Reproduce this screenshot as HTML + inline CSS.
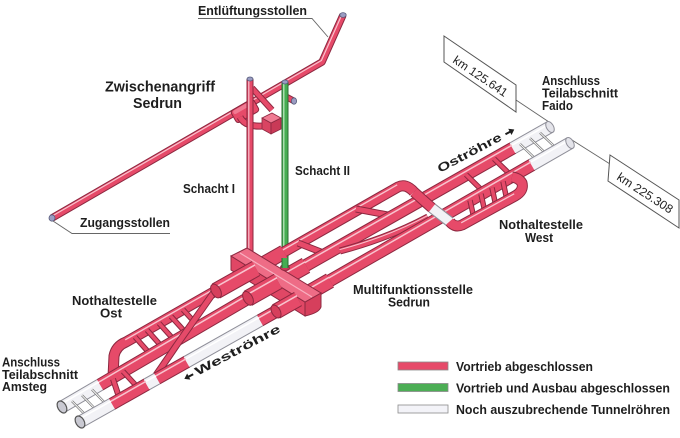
<!DOCTYPE html>
<html><head><meta charset="utf-8"><style>
html,body{margin:0;padding:0;background:#fff}
svg{display:block}
.o{fill:none;stroke:#8c2840;stroke-linejoin:round}
.r{fill:none;stroke:#e64a69;stroke-linejoin:round}
.h{fill:none;stroke:#f8c3ce;stroke-linejoin:round}
.wo{fill:none;stroke:#8e8e98;stroke-linejoin:round}
.w{fill:none;stroke:#f2f2f6;stroke-linejoin:round}
.go{fill:none;stroke:#2b6e33}
.g{fill:none;stroke:#46ad52}
.gh{fill:none;stroke:#c4eac6}
.t{font-family:"Liberation Sans",Arial,sans-serif;font-weight:bold;fill:#1e1e1e}
.n{font-family:"Liberation Sans",Arial,sans-serif;fill:#222}
.ld{fill:none;stroke:#666;stroke-width:0.9}
.cap{fill:#9a9cc2;stroke:#555a7a;stroke-width:0.8}
</style></head><body>
<svg xmlns="http://www.w3.org/2000/svg" width="680" height="438" viewBox="0 0 680 438">
<rect width="680" height="438" fill="#fff"/>

<!-- leader lines -->
<polyline class="ld" points="198,18.5 312,18.5 328,37"/>
<polyline class="ld" points="53,221 72,233.5 170,233.5"/>
<line class="ld" x1="516" y1="100" x2="549" y2="122"/>
<line class="ld" x1="610" y1="164" x2="572" y2="140"/>

<!-- Zugangsstollen / Entlüftungsstollen -->
<path class="o" stroke-width="7.5" d="M52,218 L322,62 L343,15"/>
<path class="r" stroke-width="5.5" d="M52,218 L322,62 L343,15"/>
<path class="h" stroke-width="1.2" d="M52,218 L322,62 L343,15" transform="translate(-0.6,-1.5)"/>
<ellipse class="cap" cx="52" cy="218" rx="3" ry="3.2"/>
<ellipse class="cap" cx="343" cy="15" rx="3.2" ry="2.4"/>

<!-- junction block -->
<g transform="translate(245,111) rotate(-30)">
<rect x="-13" y="-7" width="26" height="14" rx="3" fill="#e64a69" stroke="#8c2840" stroke-width="1"/>
<rect x="-11" y="-6" width="22" height="4" rx="2" fill="#f07a92"/>
</g>
<path class="o" stroke-width="6.5" d="M252,88 L272,110"/>
<path class="r" stroke-width="4.5" d="M252,88 L272,110"/>
<path class="o" stroke-width="7" d="M240,117 Q245,127 262,126"/>
<path class="r" stroke-width="5" d="M240,117 Q245,127 262,126"/>
<polygon points="262,129 271,134 271,123 262,118" fill="#d94462" stroke="#8c2840" stroke-width="0.8"/>
<polygon points="271,123 281,118 281,129 271,134" fill="#c93a57" stroke="#8c2840" stroke-width="0.8"/>
<polygon points="262,118 272,113 281,118 271,123" fill="#f07a92" stroke="#8c2840" stroke-width="0.8"/>

<!-- Schacht I -->
<path class="o" stroke-width="7" d="M250,79 L250,258"/>
<path class="r" stroke-width="5" d="M250,79 L250,258"/>
<path class="h" stroke-width="1.2" d="M248.8,80 L248.8,258"/>
<ellipse class="cap" cx="250" cy="79" rx="3" ry="2"/>
<!-- Schacht II -->
<path class="o" stroke-width="6.5" d="M283,95 L294,101"/>
<path class="r" stroke-width="4.5" d="M283,95 L294,101"/>
<ellipse class="cap" cx="294" cy="101" rx="2.6" ry="3.2"/>
<path class="go" stroke-width="7" d="M285,82 L285,267"/>
<path class="g" stroke-width="5" d="M285,82 L285,267"/>
<path class="gh" stroke-width="1.2" d="M283.8,83 L283.8,267"/>
<ellipse class="cap" cx="285" cy="82" rx="3" ry="2"/>
<ellipse cx="285" cy="267" rx="4.5" ry="2.5" fill="#c93a57" stroke="#8c2840" stroke-width="0.8"/>

<!-- back gallery G (Nothaltestelle Ost / bypass) -->
<path class="o" stroke-width="11" d="M113,377 L114,356 Q116,346 126,342 L398,187 Q406,183 414,192"/>
<path class="r" stroke-width="9" d="M113,377 L114,356 Q116,346 126,342 L398,187 Q406,183 414,192"/>
<path class="h" stroke-width="1.4" d="M126,342 L398,187" transform="translate(-0.8,-2.2)"/>

<!-- crossovers G-Ost -->
<path class="o" stroke-width="7" d="M298,243 L326,254"/>
<path class="r" stroke-width="5" d="M298,243 L326,254"/>
<path class="o" stroke-width="7" d="M356,209 L393,216"/>
<path class="r" stroke-width="5" d="M356,209 L393,216"/>

<!-- NHS Ost rungs -->
<g>
<path class="o" stroke-width="5.5" d="M135,336.9 L151,355 M147,330 L163,348 M159,323.2 L175,341 M171,316.4 L187,334 M183,309.6 L199,327"/>
<path class="r" stroke-width="3.5" d="M135,336.9 L151,355 M147,330 L163,348 M159,323.2 L175,341 M171,316.4 L187,334 M183,309.6 L199,327"/>
</g>

<!-- Ostroehre -->
<path class="wo" stroke-width="13" d="M62,407 L100,384.8"/>
<path class="o" stroke-width="13" d="M100,384.8 L252,296 L513,148"/>
<path class="wo" stroke-width="13" d="M513,148 L550,127"/>
<path class="w" stroke-width="11" d="M62,407 L100.5,384.5"/>
<path class="r" stroke-width="11" d="M100,384.8 L252,296 L513,148"/>
<path class="w" stroke-width="11" d="M512.5,148.3 L550,127"/>
<path class="h" stroke-width="1.5" d="M100,384.8 L252,296 L513,148" transform="translate(-1,-2.8)"/>
<path fill="none" stroke="#fff" stroke-width="1.5" d="M62,407 L100,384.8 M513,148 L550,127" transform="translate(-1,-2.8)"/>
<ellipse cx="62" cy="407" rx="4.2" ry="6.5" transform="rotate(-30 62 407)" fill="#c9c9d2" stroke="#555" stroke-width="1.2"/>
<ellipse cx="550" cy="127" rx="3.5" ry="6" transform="rotate(-30 550 127)" fill="#e4e4ea" stroke="#8e8e98" stroke-width="1"/>

<!-- rungs Ost-West -->
<path class="o" stroke-width="5.5" d="M466,174.6 L484,192.3 M494,158.8 L512,176.3 M123,371.4 L139,388.7"/>
<path class="r" stroke-width="3.5" d="M466,174.6 L484,192.3 M494,158.8 L512,176.3 M123,371.4 L139,388.7"/>
<path stroke="#777" stroke-width="2.4" fill="none" d="M72,401.2 L88,417.5 M82,395.3 L98,411.9 M92,389.5 L108,406.2 M520,144 L538,161.4 M530,138.3 L548,155.6 M540,132.7 L558,149.9"/>
<path stroke="#fafafa" stroke-width="1" fill="none" d="M72,401.2 L88,417.5 M82,395.3 L98,411.9 M92,389.5 L108,406.2 M520,144 L538,161.4 M530,138.3 L548,155.6 M540,132.7 L558,149.9"/>

<!-- S-curve and crossovers Ost-West -->
<path class="o" stroke-width="7" d="M214,292 C204,306 190,326 176,346 C168,358 158,372 152,381"/>
<path class="r" stroke-width="5" d="M214,292 C204,306 190,326 176,346 C168,358 158,372 152,381"/>
<path class="o" stroke-width="6" d="M113,379 L119,397"/>
<path class="r" stroke-width="4" d="M113,379 L119,397"/>
<path class="o" stroke-width="7" d="M340,251 C370,243 400,232 428,217"/>
<path class="r" stroke-width="5" d="M340,251 C370,243 400,232 428,217"/>
<path class="h" stroke-width="1" d="M340,251 C370,243 400,232 428,217" transform="translate(-0.5,-1.3)"/>

<!-- Westroehre -->
<path class="wo" stroke-width="13" d="M80,422 L112,404"/>
<path class="o" stroke-width="13" d="M112,404 L147,384.2"/>
<path class="wo" stroke-width="13" d="M147,384.2 L157,378.6"/>
<path class="o" stroke-width="13" d="M157,378.6 L187,361.7"/>
<path class="wo" stroke-width="13" d="M187,361.7 L260,320.5"/>
<path class="o" stroke-width="13" d="M260,320.5 L284,307 L532,164.8"/>
<path class="wo" stroke-width="13" d="M532,164.8 L570,143"/>
<path class="w" stroke-width="11" d="M80,422 L112.5,403.7"/>
<path class="r" stroke-width="11" d="M112,404 L147,384.2"/>
<path class="w" stroke-width="11" d="M146.5,384.5 L157.5,378.3"/>
<path class="r" stroke-width="11" d="M157,378.6 L187,361.7"/>
<path class="w" stroke-width="11" d="M186.5,362 L260.5,320.2"/>
<path class="r" stroke-width="11" d="M260,320.5 L284,307 L532,164.8"/>
<path class="w" stroke-width="11" d="M531.5,165.1 L570,143"/>
<path class="h" stroke-width="1.5" d="M112,404 L147,384.2 M157,378.6 L187,361.7 M260,320.5 L284,307 L532,164.8" transform="translate(-1,-2.8)"/>
<path fill="none" stroke="#fff" stroke-width="1.5" d="M80,422 L112,404 M147,384.2 L157,378.6 M187,361.7 L260,320.5 M532,164.8 L570,143" transform="translate(-1,-2.8)"/>
<ellipse cx="80" cy="422" rx="4.2" ry="6.5" transform="rotate(-30 80 422)" fill="#c9c9d2" stroke="#555" stroke-width="1.2"/>
<ellipse cx="570" cy="143" rx="3.5" ry="6" transform="rotate(-30 570 143)" fill="#e4e4ea" stroke="#8e8e98" stroke-width="1"/>

<!-- NHS West rungs -->
<path class="o" stroke-width="5.5" d="M470,200.3 L474,218.4 M481,194 L485,212.4 M492,187.7 L496,206.4 M503,181.4 L507,200.4"/>
<path class="r" stroke-width="3.5" d="M470,200.3 L474,218.4 M481,194 L485,212.4 M492,187.7 L496,206.4 M503,181.4 L507,200.4"/>

<!-- front gallery (Nothaltestelle West) -->
<path class="o" stroke-width="11" d="M414,192 L432,208"/>
<path class="wo" stroke-width="11" d="M432,208 L450,222"/>
<path class="o" stroke-width="11" d="M450,222 Q455,228 462,225 L515,196 Q524,191 522,183 Q519,178 512,177"/>
<path class="r" stroke-width="9" d="M414,192 L432.5,208.4"/>
<path class="w" stroke-width="9" d="M432,208 L450,222"/>
<path class="r" stroke-width="9" d="M449.5,221.6 Q455,228 462,225 L515,196 Q524,191 522,183 Q519,178 512,177"/>
<path class="h" stroke-width="1.3" d="M462,225 L515,196" transform="translate(-0.8,-2.2)"/>

<!-- right cylinders (behind hub) -->
<path class="o" stroke-width="15" d="M258,266.8 L284,252"/>
<path class="r" stroke-width="13" d="M258,266.8 L284,252"/>
<path class="o" stroke-width="17" d="M280,280.1 L306,265.4"/>
<path class="r" stroke-width="15" d="M280,280.1 L306,265.4"/>
<path class="h" stroke-width="1.5" d="M280,280.1 L306,265.4" transform="translate(-1,-3.5)"/>
<path class="o" stroke-width="16" d="M303,296.1 L330,280.6"/>
<path class="r" stroke-width="14" d="M303,296.1 L330,280.6"/>
<path class="h" stroke-width="1.5" d="M303,296.1 L330,280.6" transform="translate(-1,-3.3)"/>

<!-- hub slab -->
<polygon points="231,256 305,302 305,316 231,270" fill="#e04765" stroke="#8c2840" stroke-width="1"/>
<path d="M305,302 L321,293 L321,307 Q319,313 305,316 Z" fill="#d63f5c" stroke="#8c2840" stroke-width="1"/>
<polygon points="231,256 247,248 321,293 305,302" fill="#ee6c86" stroke="#8c2840" stroke-width="1"/>
<line x1="240" y1="253" x2="312" y2="297" stroke="#f8b0c0" stroke-width="1.2"/>
<ellipse cx="285" cy="268" rx="4.5" ry="2.5" fill="#c93a57" stroke="#8c2840" stroke-width="0.8"/>
<path class="go" stroke-width="7" d="M285,258 L285,268"/>
<path class="g" stroke-width="5" d="M285,258 L285,268"/>

<!-- left cylinders (in front of hub) -->
<path class="o" stroke-width="17" d="M216,291 L256,268.5"/>
<path class="r" stroke-width="15" d="M216,291 L256,268.5"/>
<path class="h" stroke-width="1.6" d="M216,291 L256,268.5" transform="translate(-1,-3.6)"/>
<ellipse cx="216" cy="291" rx="4.5" ry="7.5" transform="rotate(-30 216 291)" fill="#d63f5c" stroke="#8c2840" stroke-width="1"/>
<path class="o" stroke-width="17" d="M248,298.3 L278,281.3"/>
<path class="r" stroke-width="15" d="M248,298.3 L278,281.3"/>
<path class="h" stroke-width="1.6" d="M248,298.3 L278,281.3" transform="translate(-1,-3.6)"/>
<ellipse cx="248" cy="298.3" rx="4.5" ry="7.5" transform="rotate(-30 248 298.3)" fill="#d63f5c" stroke="#8c2840" stroke-width="1"/>
<path class="o" stroke-width="16" d="M276,311.5 L298,299"/>
<path class="r" stroke-width="14" d="M276,311.5 L298,299"/>
<path class="h" stroke-width="1.5" d="M276,311.5 L298,299" transform="translate(-1,-3.3)"/>
<ellipse cx="276" cy="311.5" rx="4.2" ry="7" transform="rotate(-30 276 311.5)" fill="#d63f5c" stroke="#8c2840" stroke-width="1"/>

<!-- km boxes -->
<polygon points="444,36 516,85 516,112 444,62" fill="#fff" stroke="#555" stroke-width="1"/>
<text class="n" font-size="12" transform="translate(452,62) rotate(34)" textLength="63" lengthAdjust="spacingAndGlyphs">km 125.641</text>
<polygon points="610,155 679,200 679,228 608,181" fill="#fff" stroke="#555" stroke-width="1"/>
<text class="n" font-size="12" transform="translate(616,179) rotate(33)" textLength="64" lengthAdjust="spacingAndGlyphs">km 225.308</text>

<!-- rotated tube labels -->
<g transform="translate(440,173) rotate(-28)">
<text class="t" font-size="12" x="0" y="0" textLength="71" lengthAdjust="spacingAndGlyphs">Oströhre</text>
<path d="M76,-4.5 h5 v-2.5 l5,3.5 l-5,3.5 v-2.5 h-5z" fill="#1e1e1e"/>
</g>
<g transform="translate(186,382) rotate(-28)">
<path d="M10,-4.5 h-5 v-2.5 l-5,3.5 l5,3.5 v-2.5 h5z" fill="#1e1e1e"/>
<text class="t" font-size="12" x="13" y="0" textLength="95" lengthAdjust="spacingAndGlyphs">Weströhre</text>
</g>

<!-- labels -->
<text class="t" font-size="12.5" x="198" y="15" textLength="109" lengthAdjust="spacingAndGlyphs">Entlüftungsstollen</text>
<text class="t" font-size="15" x="105" y="91.5" textLength="110" lengthAdjust="spacingAndGlyphs">Zwischenangriff</text>
<text class="t" font-size="15" x="133" y="108" textLength="49" lengthAdjust="spacingAndGlyphs">Sedrun</text>
<text class="t" font-size="13" x="183" y="193" textLength="52" lengthAdjust="spacingAndGlyphs">Schacht I</text>
<text class="t" font-size="13" x="295" y="175" textLength="55" lengthAdjust="spacingAndGlyphs">Schacht II</text>
<text class="t" font-size="13" x="80" y="227" textLength="90" lengthAdjust="spacingAndGlyphs">Zugangsstollen</text>
<text class="t" font-size="13" x="542" y="85" textLength="58" lengthAdjust="spacingAndGlyphs">Anschluss</text>
<text class="t" font-size="13" x="542" y="97.5" textLength="76" lengthAdjust="spacingAndGlyphs">Teilabschnitt</text>
<text class="t" font-size="13" x="542" y="110" textLength="31" lengthAdjust="spacingAndGlyphs">Faido</text>
<text class="t" font-size="13" x="499" y="229" textLength="84" lengthAdjust="spacingAndGlyphs">Nothaltestelle</text>
<text class="t" font-size="13" x="525" y="242" textLength="28" lengthAdjust="spacingAndGlyphs">West</text>
<text class="t" font-size="13" x="353" y="294" textLength="120" lengthAdjust="spacingAndGlyphs">Multifunktionsstelle</text>
<text class="t" font-size="13" x="388" y="306.5" textLength="42" lengthAdjust="spacingAndGlyphs">Sedrun</text>
<text class="t" font-size="13" x="72" y="305" textLength="85" lengthAdjust="spacingAndGlyphs">Nothaltestelle</text>
<text class="t" font-size="13" x="100" y="317.5" textLength="22" lengthAdjust="spacingAndGlyphs">Ost</text>
<text class="t" font-size="13" x="2" y="366.5" textLength="58" lengthAdjust="spacingAndGlyphs">Anschluss</text>
<text class="t" font-size="13" x="2" y="379" textLength="76" lengthAdjust="spacingAndGlyphs">Teilabschnitt</text>
<text class="t" font-size="13" x="2" y="391" textLength="45" lengthAdjust="spacingAndGlyphs">Amsteg</text>

<!-- legend -->
<rect x="398" y="362" width="50" height="8" fill="#e64a69" stroke="#8a8a8a" stroke-width="0.8"/>
<rect x="398" y="383.5" width="50" height="8" fill="#4cae55" stroke="#8a8a8a" stroke-width="0.8"/>
<rect x="398" y="405" width="50" height="8" fill="#f3f3f8" stroke="#8a8a8a" stroke-width="0.8"/>
<text class="t" font-size="12.5" x="456" y="371" textLength="137" lengthAdjust="spacingAndGlyphs">Vortrieb abgeschlossen</text>
<text class="t" font-size="12.5" x="456" y="392.5" textLength="214" lengthAdjust="spacingAndGlyphs">Vortrieb und Ausbau abgeschlossen</text>
<text class="t" font-size="12.5" x="456" y="414" textLength="214" lengthAdjust="spacingAndGlyphs">Noch auszubrechende Tunnelröhren</text>
</svg>
</body></html>
